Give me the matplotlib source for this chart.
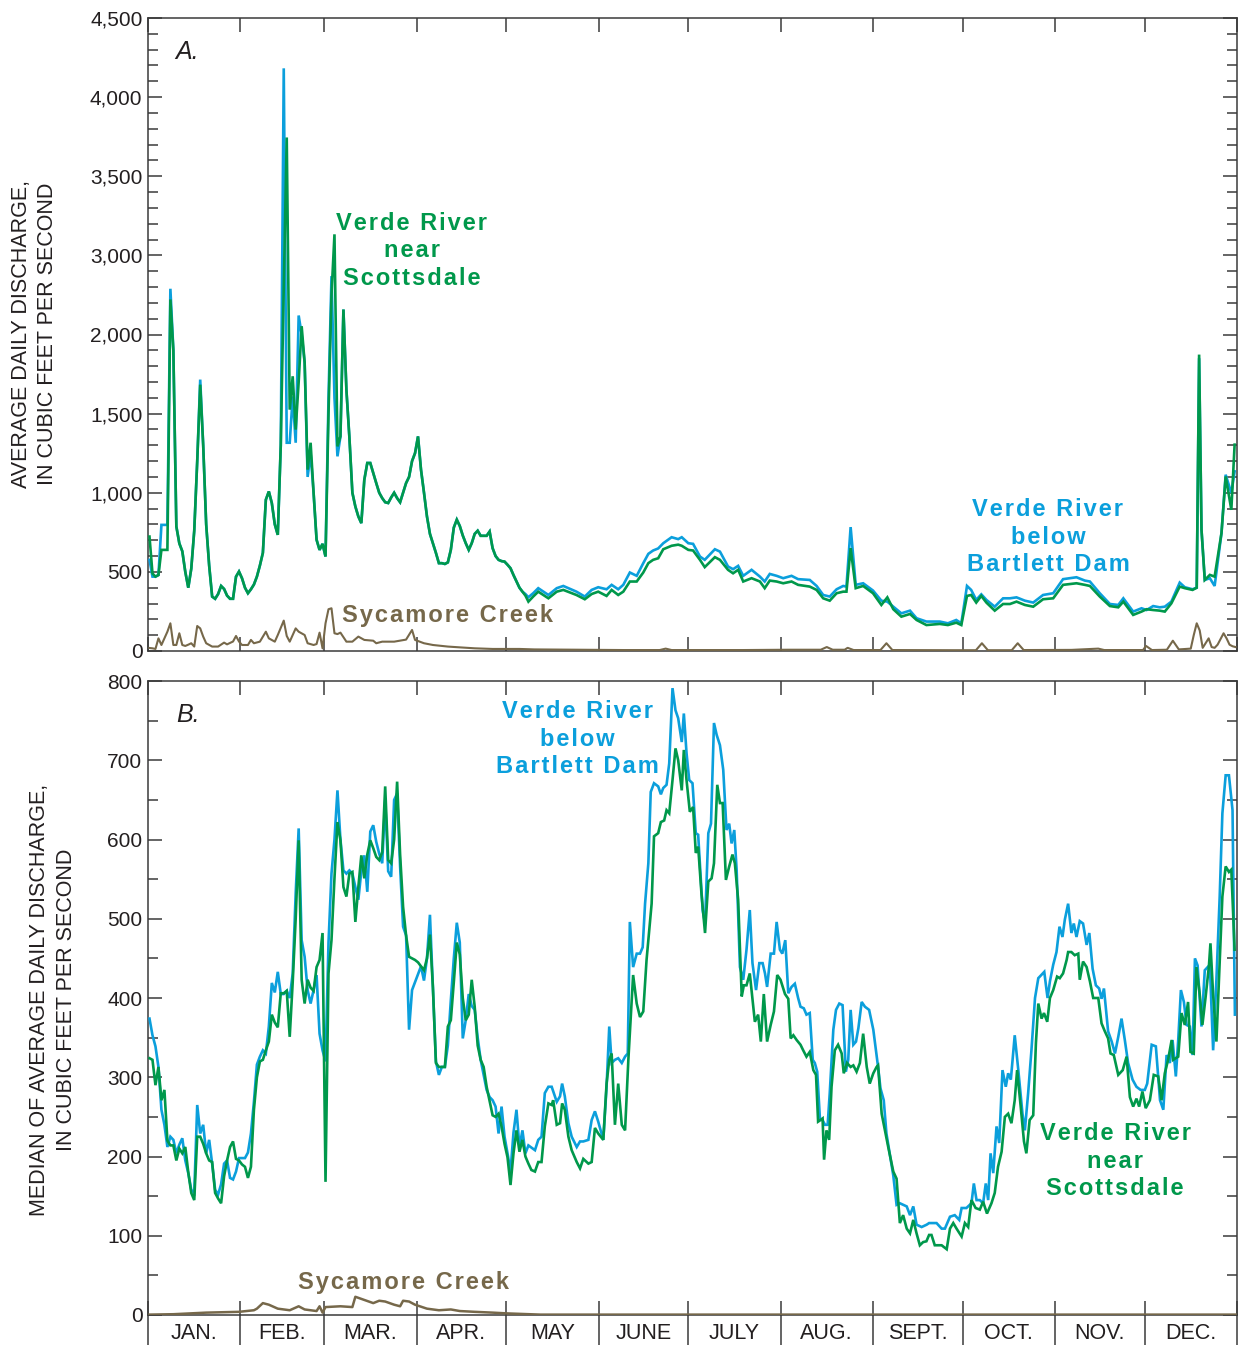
import numpy as np
import matplotlib
matplotlib.use('Agg')
import matplotlib.pyplot as plt
from matplotlib.ticker import FixedLocator, FixedFormatter, NullFormatter
from matplotlib import font_manager

# ---------------- DATA ----------------
months = ['JAN.', 'FEB.', 'MAR.', 'APR.', 'MAY', 'JUNE', 'JULY', 'AUG.', 'SEPT.', 'OCT.', 'NOV.', 'DEC.']
month_days = [31, 28, 31, 30, 31, 30, 31, 31, 30, 31, 30, 31]

# Panel A: average daily discharge (day of year, cfs)
a_days_early = list(range(1, 129))
a_days_late = [
    129.6, 131.3, 134.7, 137.5, 139.7, 144.1, 146.9, 149.2, 151.4, 154.2,
    155.9, 158.1, 159.8, 162.0, 164.3, 166.5, 168.2, 169.8, 171.5, 173.2,
    176.0, 178.2, 179.4, 181.6, 183.2, 185.5, 187.1, 190.5, 192.2, 194.9,
    196.6, 198.3, 200.0, 202.8, 205.6, 207.2, 208.9, 211.2, 213.4, 216.2,
    218.4, 222.3, 224.6, 226.8, 229.0, 231.3, 233.5, 234.6, 236.0, 237.7,
    240.2, 243.5, 246.3, 248.3, 250.3, 253.0, 255.9, 258.1, 261.4, 265.9,
    268.6, 271.4, 273.1, 275.0, 276.4, 278.1, 279.8, 281.5, 284.3, 287.1,
    289.4, 291.6, 294.4, 297.2, 300.5, 303.9, 307.2, 311.7, 314.5, 316.2,
    319.5, 322.9, 325.7, 327.4, 330.7, 333.5, 335.2, 337.4, 339.6, 341.3,
    343.5, 346.3, 348.0, 350.6, 352.0, 352.8, 353.6, 354.7, 356.4, 358.0,
    360.3, 361.7, 363.6, 364.7]

a_scottsdale_early = [
    723, 490, 470, 480, 639, 639, 639, 2443, 1900, 787,
    680, 630, 500, 400, 520, 760, 1200, 1683, 1300, 800,
    540, 344, 330, 360, 411, 392, 350, 330, 330, 470,
    502, 460, 400, 365, 390, 420, 470, 540, 620, 956,
    1008, 935, 800, 734, 1300, 2600, 3745, 1525, 1736, 1399,
    1700, 2105, 1823, 1146, 1316, 1000, 703, 639, 677, 597,
    1500, 2500, 3133, 1293, 1356, 2316, 1650, 1350, 1000, 913,
    850, 808, 1082, 1188, 1188, 1124, 1061, 1000, 966, 940,
    935, 970, 1000, 966, 940, 1000, 1061, 1100, 1200, 1250,
    1356, 1146, 1001, 850, 740, 680, 620, 555, 555, 550,
    560, 639, 780, 830, 790, 730, 681, 639, 681, 740,
    760, 728, 728, 728, 755, 650, 600, 576, 568, 565,
    545, 523, 480, 440, 400, 375, 350, 312]
a_scottsdale_late = [
    344, 375, 333, 375, 386, 354, 327, 360, 375, 348,
    386, 354, 375, 439, 439, 496, 555, 576, 586, 643,
    665, 672, 665, 639, 635, 576, 530, 593, 576, 513,
    491, 513, 439, 460, 439, 397, 445, 439, 428, 439,
    418, 407, 386, 333, 318, 365, 375, 375, 650, 397,
    411, 365, 291, 339, 264, 217, 234, 196, 164, 171,
    164, 179, 164, 348, 354, 306, 348, 306, 255, 297,
    297, 312, 291, 280, 327, 333, 418, 428, 418, 411,
    344, 284, 276, 312, 228, 249, 264, 259, 255, 249,
    301, 407, 397, 386, 400, 1873, 766, 449, 481, 470,
    745, 1103, 892, 1304]

a_bartlett_early = [
    576, 470, 470, 480, 797, 797, 797, 2578, 1900, 787,
    680, 630, 500, 400, 520, 760, 1200, 1715, 1300, 800,
    540, 344, 330, 360, 411, 392, 350, 330, 330, 470,
    502, 460, 400, 365, 390, 420, 470, 540, 620, 956,
    1008, 935, 800, 734, 1300, 4182, 1316, 1316, 1609, 1316,
    2240, 2000, 1823, 1100, 1250, 1000, 703, 639, 677, 597,
    1600, 2738, 1600, 1230, 1356, 2316, 1650, 1350, 1000, 913,
    850, 808, 1082, 1188, 1188, 1124, 1061, 1000, 966, 940,
    935, 970, 1000, 966, 940, 1000, 1061, 1100, 1200, 1250,
    1356, 1146, 1001, 850, 740, 680, 620, 555, 555, 550,
    560, 639, 780, 830, 790, 730, 681, 639, 681, 740,
    760, 728, 728, 728, 755, 650, 600, 576, 568, 565,
    545, 523, 480, 440, 400, 375, 360, 340]
a_bartlett_late = [
    365, 397, 354, 397, 411, 375, 344, 386, 403, 390,
    418, 390, 418, 496, 475, 555, 614, 635, 648, 681,
    719, 707, 719, 681, 677, 597, 576, 643, 628, 534,
    517, 538, 475, 513, 470, 439, 487, 475, 460, 475,
    454, 449, 411, 354, 344, 390, 411, 407, 783, 418,
    428, 382, 318, 312, 280, 238, 255, 207, 186, 186,
    175, 196, 175, 411, 386, 323, 358, 323, 280, 333,
    333, 339, 318, 306, 354, 365, 454, 466, 445, 439,
    365, 297, 291, 333, 249, 270, 259, 284, 276, 280,
    312, 432, 403, 390, 400, 1850, 766, 449, 460, 411,
    745, 1114, 998, 1135]

a_syc_days = [
    1, 2, 3, 4, 5, 6, 7, 8, 9, 10, 11, 12, 13, 14, 15, 16, 17, 18, 19, 20,
    22, 24, 26, 27, 29, 30, 31, 32, 34, 35,
    36, 38, 40, 41, 43, 44, 46, 47, 48, 50,
    51, 53, 54, 56, 57, 58, 59, 60, 61, 62,
    63, 64, 65, 67, 69, 71, 73, 76, 77, 79,
    83, 87, 89, 90, 93, 96, 101, 105, 110, 116,
    125, 130, 145, 160, 172, 174, 176, 200, 215, 226,
    228, 230, 234, 235, 237, 246, 248, 250, 270, 278,
    280, 282, 290, 292, 294, 310, 319, 321, 334, 335,
    337, 342, 344, 346, 350, 351, 352, 353, 354, 356,
    357, 358, 359, 361, 362, 363, 364, 365]
a_sycamore = [
    19, 17, 13, 80, 38, 80, 122, 175, 38, 38, 112, 38, 32, 40, 49, 28, 158, 143, 91, 49,
    28, 28, 53, 42, 60, 95, 60, 38, 38, 70,
    49, 59, 122, 80, 59, 101, 192, 95, 59, 143,
    122, 101, 49, 38, 44, 116, 17, 175, 264, 270,
    112, 107, 116, 59, 59, 91, 70, 65, 49, 59,
    59, 72, 133, 70, 49, 38, 28, 23, 17, 13,
    13, 10, 8, 6, 6, 15, 6, 6, 8, 8,
    25, 8, 8, 20, 6, 6, 49, 6, 5, 5,
    49, 5, 5, 49, 6, 7, 15, 6, 6, 32,
    6, 8, 65, 10, 15, 100, 175, 130, 20, 80,
    25, 20, 40, 112, 80, 40, 30, 25]

# Panel B: median of average daily discharge
b_days_early = list(range(1, 129))
b_bartlett_early = [
    374, 353, 339, 313, 259, 240, 212, 225, 221, 204,
    215, 223, 195, 179, 158, 154, 265, 229, 240, 204,
    221, 191, 158, 152, 165, 191, 195, 173, 171, 181,
    198, 198, 198, 205, 229, 269, 316, 326, 334, 330,
    364, 419, 407, 433, 405, 405, 409, 400, 431, 532,
    614, 473, 452, 410, 393, 410, 429, 355, 334, 320,
    470, 557, 600, 662, 600, 561, 557, 561, 557, 540,
    524, 560, 580, 534, 610, 618, 597, 582, 570, 650,
    560, 553, 650, 658, 566, 490, 479, 360, 410, 420,
    430, 440, 422, 450, 505, 413, 320, 303, 313, 313,
    340, 397, 450, 495, 470, 349, 372, 405, 390, 385,
    350, 322, 303, 284, 275, 271, 263, 229, 263, 225,
    204, 181, 230, 259, 212, 233, 204, 214]
b_bartlett_days_late = [
    130.2, 131.3, 132.4, 133.5, 134.7, 135.8, 137.5, 138.6, 139.3, 140.2,
    141.4, 142.5, 144.2, 145.3, 146.4, 148.1, 149.2, 150.3, 151.4, 153.1,
    154.2, 155.1, 155.9, 157.0, 158.1, 159.3, 160.4, 161.3, 162.0, 163.1,
    164.3, 165.4, 166.3, 167.1, 168.2, 169.0, 170.1, 171.5, 172.4, 173.2,
    174.3, 175.2, 176.3, 177.3, 178.2, 179.4, 180.1, 181.0, 181.9, 183.0,
    184.1, 184.9, 186.4, 187.2, 188.3, 189.2, 190.2, 191.1, 192.2, 193.3,
    194.4, 195.3, 196.1, 197.0, 197.8, 198.9, 200.0, 201.1, 202.2, 203.1,
    204.3, 205.4, 206.5, 207.3, 208.0, 209.2, 210.3, 211.2, 212.3, 213.1,
    214.1, 215.1, 216.2, 217.3, 218.4, 219.2, 220.3, 221.2, 222.3, 223.3,
    224.0, 224.8, 225.7, 226.6, 227.4, 228.3, 229.0, 230.2, 231.1, 232.2,
    233.3, 234.4, 235.2, 236.0, 236.9, 237.8, 238.6, 239.7, 240.8, 242.2,
    243.6, 244.5, 245.2, 246.0, 247.1, 248.0, 249.1, 250.3, 251.4, 252.5,
    254.8, 255.9, 257.0, 258.1, 259.8, 261.5, 262.3, 264.8, 266.5, 267.6,
    269.3, 270.9, 272.4, 273.2, 274.8, 276.5, 277.3, 278.2, 279.3, 280.4,
    281.3, 282.1, 282.9, 283.8, 284.9, 285.8, 286.9, 288.0, 288.8, 289.7,
    291.0, 292.2, 293.6, 294.4, 295.5, 296.6, 297.8, 298.9, 300.9, 302.0,
    302.8, 303.9, 305.0, 306.0, 307.0, 307.8, 308.9, 310.0, 310.8, 311.7,
    312.8, 313.9, 315.1, 316.0, 317.1, 318.2, 319.3, 320.1, 320.9, 322.3,
    323.5, 324.6, 325.7, 326.8, 327.9, 329.0, 330.5, 331.8, 333.2, 334.6,
    335.4, 336.9, 338.3, 339.7, 340.8, 341.9, 343.0, 343.9, 345.0, 345.8,
    346.7, 347.7, 348.6, 349.7, 350.6, 351.4, 352.3, 353.6, 354.7, 356.4,
    357.5, 358.6, 359.7, 360.6, 361.7, 362.8, 364.0, 364.8]
b_bartlett_late = [
    208, 221, 225, 280, 288, 288, 269, 276, 292, 276,
    242, 225, 212, 219, 219, 221, 246, 257, 244, 221,
    288, 364, 318, 322, 324, 318, 326, 330, 496, 439,
    456, 456, 464, 519, 570, 660, 671, 667, 657, 665,
    669, 696, 791, 763, 753, 723, 759, 709, 675, 671,
    608, 606, 511, 494, 608, 620, 747, 732, 719, 688,
    612, 620, 595, 612, 561, 439, 423, 461, 511, 444,
    410, 444, 444, 431, 414, 456, 456, 496, 461, 456,
    473, 406, 414, 418, 400, 389, 387, 379, 381, 322,
    318, 307, 248, 246, 240, 240, 280, 360, 385, 393,
    391, 307, 322, 385, 341, 345, 362, 395, 389, 385,
    360, 334, 313, 286, 271, 229, 204, 176, 139, 141,
    137, 126, 137, 114, 111, 114, 116, 116, 109, 109,
    124, 126, 120, 135, 135, 141, 166, 145, 145, 141,
    166, 145, 204, 179, 238, 217, 309, 288, 305, 297,
    353, 309, 254, 233, 280, 334, 400, 425, 433, 400,
    421, 442, 458, 490, 477, 499, 519, 482, 494, 477,
    497, 494, 467, 482, 437, 416, 412, 399, 412, 358,
    345, 330, 351, 374, 347, 318, 297, 288, 284, 284,
    292, 341, 339, 271, 259, 328, 318, 347, 301, 347,
    410, 395, 366, 364, 328, 450, 441, 364, 435, 442,
    334, 423, 528, 633, 681, 681, 637, 379]

b_scottsdale_early = [
    324, 322, 290, 313, 271, 284, 220, 214, 214, 195,
    210, 204, 212, 180, 154, 145, 225, 225, 216, 204,
    195, 193, 154, 147, 141, 175, 195, 212, 219, 197,
    195, 190, 187, 173, 187, 259, 300, 320, 322, 334,
    345, 379, 369, 363, 406, 406, 409, 351, 420, 500,
    599, 423, 393, 423, 413, 409, 439, 448, 482, 168,
    431, 473, 551, 622, 599, 540, 528, 557, 559, 496,
    540, 580, 551, 581, 599, 589, 578, 574, 584, 667,
    574, 570, 600, 673, 581, 515, 479, 452, 450, 448,
    445, 440, 435, 450, 480, 413, 318, 313, 313, 313,
    364, 372, 420, 470, 455, 400, 372, 379, 423, 389,
    340, 322, 313, 288, 270, 252, 250, 254, 238, 216,
    199, 164, 204, 233, 206, 221, 200, 191]
b_scottsdale_days_late = [
    129.0, 130.2, 131.3, 132.4, 133.5, 134.7, 135.8, 136.3, 137.5, 138.6,
    139.3, 140.2, 141.4, 142.5, 144.2, 145.3, 146.4, 148.1, 149.2, 150.3,
    151.4, 153.1, 154.2, 155.1, 155.9, 157.0, 158.1, 159.3, 160.4, 161.5,
    163.1, 164.3, 165.4, 166.5, 167.6, 169.3, 170.1, 171.5, 172.4, 173.5,
    174.3, 175.2, 176.3, 177.3, 178.2, 179.4, 180.1, 181.0, 182.1, 183.2,
    184.1, 184.9, 186.0, 187.2, 188.3, 189.4, 190.2, 191.3, 192.2, 193.1,
    194.2, 195.3, 196.4, 197.2, 198.3, 199.5, 200.2, 201.1, 202.2, 203.9,
    205.0, 205.9, 206.9, 208.0, 209.2, 210.3, 211.4, 212.5, 214.0, 215.1,
    215.9, 216.8, 217.9, 219.2, 220.1, 221.2, 222.3, 223.5, 224.4, 225.1,
    225.9, 226.6, 227.1, 227.9, 228.8, 229.6, 230.7, 231.8, 233.0, 233.7,
    234.8, 236.0, 236.9, 238.0, 239.1, 240.2, 241.4, 242.4, 243.6, 244.7,
    245.2, 246.4, 247.5, 248.6, 250.3, 251.4, 252.5, 253.6, 254.8, 255.9,
    257.0, 258.1, 259.2, 260.3, 261.4, 262.3, 263.1, 264.2, 266.5, 268.2,
    269.3, 270.4, 271.5, 273.2, 274.3, 275.4, 276.5, 277.9, 279.3, 280.4,
    281.7, 283.2, 284.3, 285.4, 286.6, 287.7, 288.8, 289.9, 291.0, 291.8,
    293.0, 294.1, 294.9, 296.0, 297.2, 298.1, 298.9, 300.0, 300.8, 301.9,
    302.8, 303.9, 305.2, 306.1, 307.2, 308.4, 308.9, 310.0, 311.1, 312.3,
    312.8, 313.9, 315.1, 316.2, 317.3, 319.0, 320.1, 321.2, 322.3, 323.1,
    324.2, 325.7, 327.2, 328.5, 329.6, 330.7, 331.8, 332.7, 333.8, 334.9,
    336.3, 337.6, 339.1, 340.2, 341.3, 342.4, 343.6, 344.1, 345.8, 346.9,
    348.0, 349.1, 349.9, 351.0, 351.9, 353.0, 353.9, 355.0, 356.1, 356.6,
    357.5, 358.6, 360.6, 361.7, 362.8, 363.6, 364.7]
b_scottsdale_late = [
    183, 181, 193, 193, 238, 267, 265, 271, 240, 242,
    267, 259, 225, 208, 193, 185, 197, 191, 193, 236,
    229, 221, 292, 322, 330, 240, 292, 240, 233, 322,
    429, 393, 376, 383, 448, 519, 604, 608, 622, 624,
    637, 633, 675, 715, 700, 662, 713, 675, 635, 641,
    583, 591, 532, 482, 547, 551, 570, 669, 646, 646,
    549, 566, 581, 570, 524, 402, 416, 416, 431, 370,
    379, 345, 405, 345, 366, 383, 429, 423, 405, 399,
    349, 353, 347, 341, 334, 326, 332, 309, 303, 244,
    246, 248, 196, 233, 221, 288, 334, 341, 330, 305,
    318, 313, 315, 307, 318, 355, 313, 292, 305, 313,
    315, 254, 233, 212, 181, 172, 116, 126, 109, 103,
    120, 103, 88, 92, 93, 101, 101, 88, 88, 83,
    109, 116, 109, 99, 116, 111, 145, 135, 133, 143,
    128, 141, 154, 187, 206, 250, 254, 242, 271, 309,
    263, 219, 204, 246, 252, 343, 393, 374, 381, 370,
    400, 410, 427, 425, 431, 448, 458, 458, 454, 456,
    423, 446, 439, 421, 400, 400, 368, 358, 349, 330,
    328, 303, 309, 326, 275, 263, 273, 263, 282, 261,
    271, 303, 301, 271, 305, 322, 347, 322, 326, 381,
    366, 395, 332, 330, 439, 405, 366, 402, 441, 469,
    404, 345, 528, 566, 559, 562, 461]

b_syc_days = [1, 9, 20, 31, 36, 37, 39, 41, 44, 46,
              48, 51, 53, 57, 58, 59, 60, 65, 69, 70,
              73, 76, 78, 80, 83, 85, 86, 88, 90, 94,
              98, 102, 105, 110, 116, 121, 132, 365]
b_sycamore = [0.5, 1, 3, 4, 6, 8, 15, 13, 8, 7,
              6, 11, 7, 5, 11, 3, 10, 11, 10, 23,
              19, 15, 18, 17, 13, 11, 18, 17, 13, 8,
              6, 7, 5, 4, 3, 2, 0.5, 0.5]

a_ticks = [0, 500, 1000, 1500, 2000, 3000, 3500, 4000, 4500]
a_ticklabels = ['0', '500', '1,000', '1,500', '2,000', '3,000', '3,500', '4,000', '4,500']
b_ticks = [0, 100, 200, 300, 400, 500, 600, 700, 800]
b_ticklabels = ['0', '100', '200', '300', '400', '500', '600', '700', '800']

# ---------------- STYLE ----------------
plt.rcParams['font.family'] = ['Liberation Sans', 'DejaVu Sans']
BLUE = '#0B9FDC'
GREEN = '#00984B'
BROWN = '#76684A'
AXC = '#3A3A3A'
TXT = '#231F20'

_names = {f.name for f in font_manager.fontManager.ttflist}
if 'Liberation Sans Narrow' in _names:
    YLAB_FAM, YLAB_SIZE = ['Liberation Sans Narrow', 'DejaVu Sans'], 18.7
else:
    YLAB_FAM, YLAB_SIZE = ['Liberation Sans', 'DejaVu Sans'], 15.5

W, H = 1238, 1345
fig = plt.figure(figsize=(W / 100, H / 100), dpi=100)
axA = fig.add_axes([148 / W, 1 - 651 / H, 1089 / W, 633 / H])
axB = fig.add_axes([148 / W, 1 - 1315 / H, 1089 / W, 634 / H])


def fwd(v):
    v = np.asarray(v, dtype=float)
    return np.where(v <= 2000, v, np.where(v <= 3000, 2000 + (v - 2000) * 0.5, v - 500))


def inv(u):
    u = np.asarray(u, dtype=float)
    return np.where(u <= 2000, u, np.where(u <= 2500, 2000 + (u - 2000) * 2.0, u + 500))


axA.set_yscale('function', functions=(fwd, inv))

a_days = a_days_early + a_days_late
a_scottsdale = a_scottsdale_early + a_scottsdale_late
a_bartlett = a_bartlett_early + a_bartlett_late
b_bart_days = b_days_early + b_bartlett_days_late
b_bartlett = b_bartlett_early + b_bartlett_late
b_scot_days = b_days_early + b_scottsdale_days_late
b_scottsdale = b_scottsdale_early + b_scottsdale_late

LW = 1.9
axA.plot(a_days, a_bartlett, color=BLUE, lw=LW, zorder=3, solid_joinstyle='miter')
axA.plot(a_days, a_scottsdale, color=GREEN, lw=LW, zorder=4, solid_joinstyle='miter')
axA.plot(a_syc_days, a_sycamore, color=BROWN, lw=1.5, zorder=5)

axB.plot(b_bart_days, b_bartlett, color=BLUE, lw=LW, zorder=3, solid_joinstyle='miter')
axB.plot(b_scot_days, b_scottsdale, color=GREEN, lw=LW, zorder=4, solid_joinstyle='miter')
axB.plot(b_syc_days, b_sycamore, color=BROWN, lw=1.8, zorder=5)

# month geometry
bounds = [0.5]
for n in month_days:
    bounds.append(bounds[-1] + n)
centers = [(bounds[i] + bounds[i + 1]) / 2 for i in range(12)]

for ax in (axA, axB):
    for s in ax.spines.values():
        s.set_color(AXC)
        s.set_linewidth(1.1)
    ax.xaxis.set_major_locator(FixedLocator(centers))
    ax.xaxis.set_minor_locator(FixedLocator(bounds))
    ax.xaxis.set_minor_formatter(NullFormatter())
    ax.tick_params(axis='x', which='major', length=0, bottom=True, top=False,
                   labelsize=15.5, labelcolor=TXT, pad=6)
    ax.tick_params(axis='x', which='minor', direction='in', length=10, width=1.1,
                   color=AXC, top=True, bottom=True)
    ax.tick_params(axis='y', which='both', direction='in', left=True, right=True,
                   width=1.1, color=AXC, labelsize=15, labelcolor=TXT, pad=4)
    ax.tick_params(axis='y', which='major', length=10)
    ax.tick_params(axis='y', which='minor', length=7)

axA.xaxis.set_major_formatter(NullFormatter())
axB.xaxis.set_major_formatter(FixedFormatter(months))

a_minor = ([v for v in range(100, 2000, 100) if v % 500] + [2200, 2400, 2600, 2800] +
           [v for v in range(3100, 4500, 100) if v % 500])
axA.yaxis.set_major_locator(FixedLocator(a_ticks))
axA.yaxis.set_major_formatter(FixedFormatter(a_ticklabels))
axA.yaxis.set_minor_locator(FixedLocator(a_minor))
axA.yaxis.set_minor_formatter(NullFormatter())

axB.yaxis.set_major_locator(FixedLocator(b_ticks))
axB.yaxis.set_major_formatter(FixedFormatter(b_ticklabels))
axB.yaxis.set_minor_locator(FixedLocator([50 + 100 * i for i in range(8)]))
axB.yaxis.set_minor_formatter(NullFormatter())

# month separators below panel B
trans = axB.get_xaxis_transform()
for b in bounds:
    axB.plot([b, b], [-32 / 634, 0], transform=trans, color=AXC, lw=1.1,
             clip_on=False, solid_capstyle='butt')

axA.set_xlim(0.5, 365.5)
axB.set_xlim(0.5, 365.5)
axA.set_ylim(0, 4500)
axB.set_ylim(0, 800)


def spaced(s, sp='\u200a'):
    return '\n'.join(sp.join(list(line)) for line in s.split('\n'))


lab_kw = dict(ha='center', va='center', fontsize=17, fontweight='bold',
              linespacing=1.25, multialignment='center')
axA.text(0.2424, 0.632, spaced('Verde River\nnear\nScottsdale'), transform=axA.transAxes,
         color=GREEN, **lab_kw)
axA.text(0.8264, 0.180, spaced('Verde River\nbelow\nBartlett Dam'), transform=axA.transAxes,
         color=BLUE, **lab_kw)
axA.text(0.2746, 0.0553, spaced('Sycamore Creek'), transform=axA.transAxes,
         color=BROWN, **lab_kw)
axB.text(0.394, 0.9085, spaced('Verde River\nbelow\nBartlett Dam'), transform=axB.transAxes,
         color=BLUE, **lab_kw)
axB.text(0.888, 0.2429, spaced('Verde River\nnear\nScottsdale'), transform=axB.transAxes,
         color=GREEN, **lab_kw)
axB.text(0.2342, 0.0505, spaced('Sycamore Creek'), transform=axB.transAxes,
         color=BROWN, **lab_kw)

axA.text(0.0248, 0.946, 'A.', transform=axA.transAxes, ha='left', va='center',
         fontsize=18, fontstyle='italic', color=TXT)
axB.text(0.0257, 0.946, 'B.', transform=axB.transAxes, ha='left', va='center',
         fontsize=18, fontstyle='italic', color=TXT)

fig.text(34.5 / W, 1 - 334 / H, 'AVERAGE DAILY DISCHARGE,\nIN CUBIC FEET PER SECOND',
         rotation=90, ha='center', va='center', multialignment='center',
         fontsize=YLAB_SIZE, family=YLAB_FAM, color=TXT, linespacing=1.32)
fig.text(53 / W, 1 - 1000 / H, 'MEDIAN OF AVERAGE DAILY DISCHARGE,\nIN CUBIC FEET PER SECOND',
         rotation=90, ha='center', va='center', multialignment='center',
         fontsize=YLAB_SIZE, family=YLAB_FAM, color=TXT, linespacing=1.32)

fig.savefig('out.png', dpi=100)
